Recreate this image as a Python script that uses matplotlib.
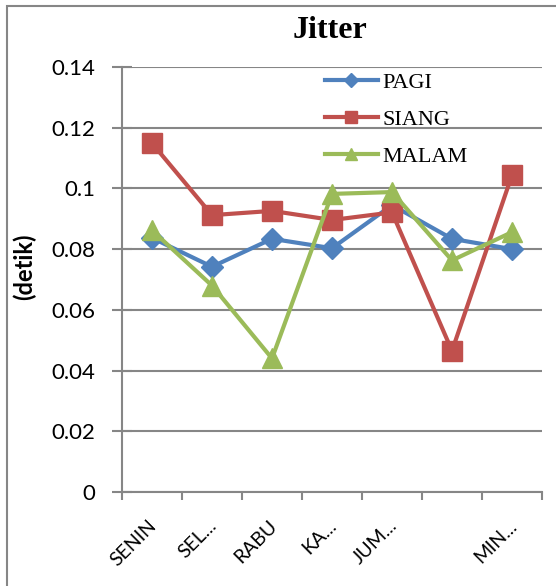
import matplotlib.pyplot as plt
from matplotlib.lines import Line2D
from matplotlib.patches import Rectangle
from matplotlib.ticker import FixedLocator
import matplotlib.transforms as mtransforms

# day labels as shown (Excel truncates long ones, SABTU not shown)
days = ['SENIN', 'SEL...', 'RABU', 'KA...', 'JUM...', '', 'MIN...']
pagi = [0.0837, 0.0742, 0.0834, 0.0803, 0.0945, 0.0834, 0.0800]
siang = [0.1149, 0.0912, 0.0926, 0.0896, 0.0921, 0.0465, 0.1044]
malam = [0.0862, 0.0680, 0.0440, 0.0982, 0.0988, 0.0763, 0.0856]
yticks = [0, 0.02, 0.04, 0.06, 0.08, 0.1, 0.12, 0.14]
ytick_labels = ['0', '0.02', '0.04', '0.06', '0.08', '0.1', '0.12', '0.14']

blue = '#4F81BD'
red = '#C0504D'
green = '#9BBB59'
grid_col = '#868686'

fig = plt.figure(figsize=(5.56, 5.86), dpi=100)
ax = fig.add_axes([122/556, 1-492/586, 420/556, 425/586])

x = range(len(days))
ax.plot(x, pagi, color=blue, lw=3, marker='D', ms=11, zorder=3)
ax.plot(x, siang, color=red, lw=3, marker='s', ms=14, zorder=3)
ax.plot(x, malam, color=green, lw=3, marker='^', ms=14, zorder=4)

ax.set_xlim(-0.5, len(days) - 0.5)
ax.set_ylim(0, 0.14)
ax.yaxis.set_major_locator(FixedLocator(yticks))
ax.set_yticklabels(ytick_labels)
ax.grid(axis='y', color=grid_col, lw=1.5, zorder=0)
ax.set_axisbelow(True)

for s in ['top', 'right']:
    ax.spines[s].set_visible(False)
for s in ['left', 'bottom']:
    ax.spines[s].set_color(grid_col)
    ax.spines[s].set_linewidth(1.5)

ax.tick_params(axis='y', direction='inout', length=14, width=1.5, color=grid_col,
               labelsize=16, pad=12)
ax.set_xticks(list(x))
ax.set_xticks([i - 0.5 for i in range(len(days) + 1)], minor=True)
ax.tick_params(axis='x', which='major', length=0, labelsize=14, pad=18)
ax.tick_params(axis='x', which='minor', direction='out', length=6, width=1.5,
               color=grid_col)
ax.set_xticklabels(days, rotation=45, ha='right', va='top')
shift = mtransforms.ScaledTranslation(8/100, 0, fig.dpi_scale_trans)
for lab in ax.get_xticklabels():
    lab.set_transform(lab.get_transform() + shift)
    lab.set_fontfamily('Lato')
for lab in ax.get_yticklabels():
    lab.set_fontfamily('Lato')

ax.set_ylabel('(detik)', fontsize=17, fontweight='bold', fontfamily='Lato')
ax.yaxis.set_label_coords(-0.205, 0.53)

fig.text(330/556, 1-30/586, 'Jitter', fontsize=23, fontweight='bold',
         fontfamily='Liberation Serif', ha='center', va='center')

handles = [
    Line2D([], [], color=blue, lw=3, marker='D', ms=7),
    Line2D([], [], color=red, lw=3, marker='s', ms=8),
    Line2D([], [], color=green, lw=3, marker='^', ms=8),
]
ax.legend(handles, ['PAGI', 'SIANG', 'MALAM'], loc='upper left',
          bbox_to_anchor=(0.435, 1.035), frameon=False, handlelength=2.4,
          handletextpad=0.2, labelspacing=0.75,
          prop={'family': 'Liberation Serif', 'size': 16})

# outer chart border
fig.patches.append(Rectangle((7/556, -0.1), 1.2, 1 - 6/586 + 0.1,
                             transform=fig.transFigure, fill=False,
                             edgecolor=grid_col, lw=1.5))

fig.savefig('out.png', dpi=100)
